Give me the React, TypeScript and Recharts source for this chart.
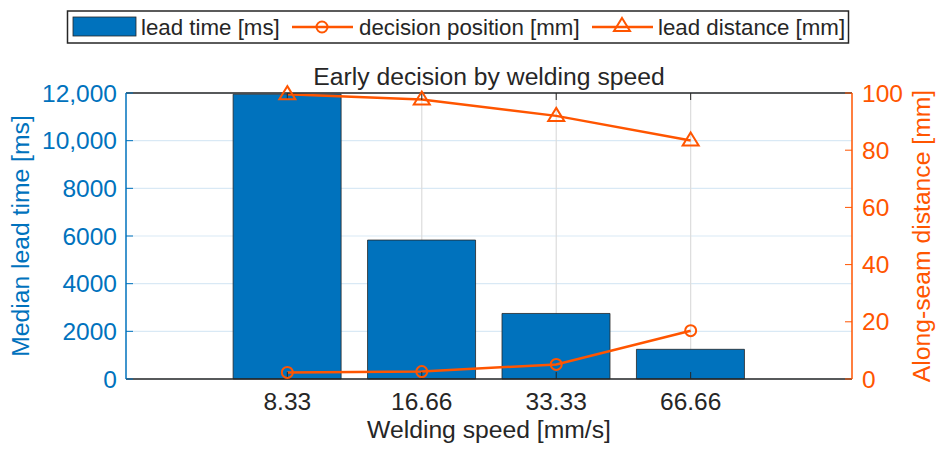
import React from 'react';
import { ComposedChart, Bar, Line, XAxis, YAxis, CartesianGrid, Label } from 'recharts';

const speeds = ['8.33', '16.66', '33.33', '66.66'];
const leadTimeMs = [11950, 5830, 2750, 1245];
const decisionPositionMm = [2.3, 2.6, 5.1, 16.9];
const leadDistanceMm = [99.6, 97.7, 92.0, 83.4];

const leftTicks = [0, 2000, 4000, 6000, 8000, 10000, 12000];
const rightTicks = [0, 20, 40, 60, 80, 100];
const seriesNames = ['lead time [ms]', 'decision position [mm]', 'lead distance [mm]'];

const BLUE = '#0072BD';
const ORANGE = '#FF5500';
const DARK = '#262626';
const FONT = '"Liberation Sans", Arial, Helvetica, sans-serif';

// categories sit at 1..4 on a numeric axis so the padding matches the original
const data = speeds.map((s, i) => ({
  pos: i + 1,
  speed: s,
  leadTime: leadTimeMs[i],
  decision: decisionPositionMm[i],
  leadDist: leadDistanceMm[i],
}));
const xTicks = data.map(d => d.pos);

const fmtLeft = (v: number) => (v >= 10000 ? v.toLocaleString('en-US') : String(v));

const renderCircle = (p: any) => {
  if (p.cx == null || p.cy == null) return <g key={p.index} />;
  return <circle key={p.index} cx={p.cx} cy={p.cy} r={5.5} fill="none" stroke={ORANGE} strokeWidth={2} />;
};

const trianglePath = (cx: number, cy: number) =>
  `M${cx},${cy - 8} L${cx + 8},${cy + 5} L${cx - 8},${cy + 5} Z`;

const renderTriangle = (p: any) => {
  if (p.cx == null || p.cy == null) return <g key={p.index} />;
  return <path key={p.index} d={trianglePath(p.cx, p.cy)} fill="none" stroke={ORANGE} strokeWidth={2} strokeLinejoin="miter" />;
};

const LEG_FS = 22.3;

const ChartLegend = () => (
  <svg width={948} height={50} style={{ position: 'absolute', left: 0, top: 0 }}>
    <rect x={67.5} y={11} width={781} height={32} fill="#fff" stroke={DARK} strokeWidth={1.5} />
    <rect x={73} y={17} width={63} height={19} fill={BLUE} stroke={DARK} strokeWidth={0.8} />
    <text x={141} y={34.5} fontSize={LEG_FS} fill={DARK}>{seriesNames[0]}</text>
    <line x1={292} x2={353} y1={27} y2={27} stroke={ORANGE} strokeWidth={2.5} />
    <circle cx={322} cy={27} r={5.5} fill="none" stroke={ORANGE} strokeWidth={2} />
    <text x={359} y={34.5} fontSize={LEG_FS} fill={DARK}>{seriesNames[1]}</text>
    <line x1={592} x2={653} y1={27} y2={27} stroke={ORANGE} strokeWidth={2.5} />
    <path d={trianglePath(622, 26)} fill="none" stroke={ORANGE} strokeWidth={2} />
    <text x={658} y={34.5} fontSize={LEG_FS} fill={DARK}>{seriesNames[2]}</text>
  </svg>
);

const TICK_FS = 24.5;
const LABEL_FS = 24.7;

export default function App() {
  return (
    <div style={{ position: 'absolute', left: 0, top: 0, width: 948, height: 454, background: '#fff', fontFamily: FONT }}>
      <ComposedChart
        width={948}
        height={454}
        data={data}
        margin={{ top: 92, right: 0, bottom: 0, left: 0 }}
      >
        <CartesianGrid xAxisId="bottom" yAxisId="left" vertical={false} stroke="#d9e9f5" strokeWidth={1.2} horizontalValues={leftTicks} />
        <CartesianGrid xAxisId="bottom" yAxisId="left" horizontal={false} stroke="#dcdcdc" strokeWidth={1.2} verticalValues={xTicks} />

        <Bar xAxisId="bottom" yAxisId="left" dataKey="leadTime" name={seriesNames[0]} fill={BLUE} stroke={DARK} strokeWidth={0.8} barSize={108} isAnimationActive={false} />
        <Line xAxisId="bottom" yAxisId="right" dataKey="decision" name={seriesNames[1]} stroke={ORANGE} strokeWidth={2.5} dot={renderCircle} activeDot={false} isAnimationActive={false} />
        <Line xAxisId="bottom" yAxisId="right" dataKey="leadDist" name={seriesNames[2]} stroke={ORANGE} strokeWidth={2.5} dot={renderTriangle} activeDot={false} isAnimationActive={false} />

        <XAxis
          xAxisId="bottom"
          type="number"
          dataKey="pos"
          domain={[-0.2, 5.2]}
          ticks={xTicks}
          tickFormatter={(v: number) => speeds[v - 1] ?? ''}
          orientation="bottom"
          height={75}
          stroke={DARK}
          tickSize={-7}
          tickMargin={21}
          tick={{ fill: DARK, fontSize: TICK_FS }}
          axisLine={{ stroke: DARK, strokeWidth: 1.5 }}
        >
          <Label
            content={(p: any) => (
              <text x={p.viewBox.x + p.viewBox.width / 2} y={p.viewBox.y + 59} textAnchor="middle" fontSize={LABEL_FS} fill={DARK}>
                Welding speed [mm/s]
              </text>
            )}
          />
        </XAxis>
        <XAxis
          xAxisId="top"
          type="number"
          dataKey="pos"
          domain={[-0.2, 5.2]}
          ticks={xTicks}
          orientation="top"
          height={1}
          stroke={DARK}
          tickSize={-7}
          tickFormatter={() => ''}
          axisLine={{ stroke: DARK, strokeWidth: 1.5 }}
        />
        <YAxis
          yAxisId="left"
          orientation="left"
          width={126}
          domain={[0, 12000]}
          ticks={leftTicks}
          tickFormatter={fmtLeft}
          stroke={BLUE}
          tickSize={-7}
          tickMargin={16}
          tick={{ fill: BLUE, fontSize: TICK_FS }}
          axisLine={{ stroke: BLUE, strokeWidth: 1.5 }}
          interval={0}
        >
          <Label
            content={(p: any) => {
              const x = p.viewBox.x + 29;
              const y = p.viewBox.y + p.viewBox.height / 2;
              return (
                <text x={x} y={y} transform={`rotate(-90, ${x}, ${y})`} textAnchor="middle" fontSize={LABEL_FS} fill={BLUE}>
                  Median lead time [ms]
                </text>
              );
            }}
          />
        </YAxis>
        <YAxis
          yAxisId="right"
          orientation="right"
          width={96}
          domain={[0, 100]}
          ticks={rightTicks}
          stroke={ORANGE}
          tickSize={-7}
          tickMargin={17}
          tick={{ fill: ORANGE, fontSize: TICK_FS }}
          axisLine={{ stroke: ORANGE, strokeWidth: 1.5 }}
          interval={0}
        >
          <Label
            content={(p: any) => {
              const x = p.viewBox.x + 78;
              const y = p.viewBox.y + p.viewBox.height / 2;
              return (
                <text x={x} y={y} transform={`rotate(-90, ${x}, ${y})`} textAnchor="middle" fontSize={LABEL_FS} fill={ORANGE}>
                  Along-seam distance [mm]
                </text>
              );
            }}
          />
        </YAxis>
      </ComposedChart>

      <div style={{ position: 'absolute', left: 0, top: 63, width: 978, textAlign: 'center', fontSize: LABEL_FS, color: DARK, lineHeight: '28px', pointerEvents: 'none' }}>
        Early decision by welding speed
      </div>
      <ChartLegend />
    </div>
  );
}
